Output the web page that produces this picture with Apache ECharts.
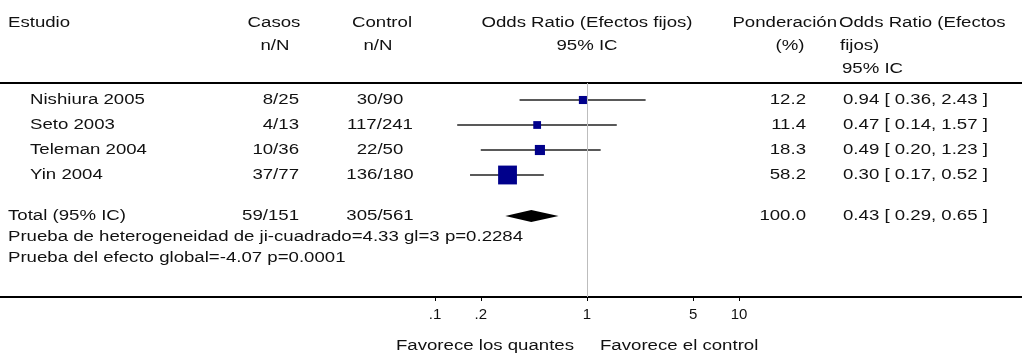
<!DOCTYPE html>
<html lang="es">
<head>
<meta charset="UTF-8">
<title>Forest plot</title>
<script src="https://cdn.jsdelivr.net/npm/echarts@6/dist/echarts.min.js"></script>
<style>
  html, body { margin: 0; padding: 0; background: #fff; }
  #chart { width: 1022px; height: 354px; }
</style>
</head>
<body>
<div id="chart"></div>
<script>
// data
var studies = ['Nishiura 2005', 'Seto 2003', 'Teleman 2004', 'Yin 2004'];
var casesEvents = [8, 4, 10, 37];
var casesTotal = [25, 13, 36, 77];
var controlEvents = [30, 117, 22, 136];
var controlTotal = [90, 241, 50, 180];
var weights = [12.2, 11.4, 18.3, 58.2];
var oddsRatio = [0.94, 0.47, 0.49, 0.30];
var ciLow = [0.36, 0.14, 0.20, 0.17];
var ciHigh = [2.43, 1.57, 1.23, 0.52];
var totalOR = [0.43, 0.29, 0.65];   // estimate, low, high
var totalWeight = 100.0;
var tickValues = [0.1, 0.2, 1, 5, 10];
var statLines = [
    'Prueba de heterogeneidad de ji-cuadrado=4.33 gl=3 p=0.2284',
    'Prueba del efecto global=-4.07 p=0.0001'
];

var FONT = '14px "Liberation Sans", Arial, sans-serif';
var SX = 1.33;          // the source text is drawn wide
var TEXT = '#111';
var TOTAL_ROW = 4.64;   // total row sits a bit below the studies

var sum = function (a) { return a.reduce(function (x, y) { return x + y; }, 0); };
var f2 = function (v) { return v.toFixed(2); };

var myChart = echarts.init(document.getElementById('chart'));

var studyData = studies.map(function (s, i) {
    return [oddsRatio[i], ciLow[i], ciHigh[i], i, weights[i]];
});

myChart.setOption({
    animation: false,
    grid: { left: 0, right: 0, top: 83, bottom: 57 },
    xAxis: {
        type: 'log',
        min: Math.pow(10, -3.862),
        max: Math.pow(10, 2.862),
        axisLine: { onZero: false, lineStyle: { color: '#000', width: 2 } },
        axisTick: { show: true, length: 4, customValues: tickValues, lineStyle: { color: '#000' } },
        axisLabel: {
            customValues: tickValues,
            margin: 10,
            fontSize: 15,
            fontFamily: '"Liberation Sans", Arial, sans-serif',
            color: TEXT,
            formatter: function (v) { return v < 1 ? String(+v.toFixed(2)).replace(/^0/, '') : String(v); }
        },
        splitLine: { show: false }
    },
    yAxis: { type: 'value', inverse: true, min: -0.68, max: 7.88, show: false },
    series: [{
        type: 'custom',
        data: studyData,
        renderItem: function (params, api) {
            var y = api.coord([1, api.value(3)])[1];
            var xs = api.coord([api.value(0), 0])[0];
            var xl = api.coord([api.value(1), 0])[0];
            var xh = api.coord([api.value(2), 0])[0];
            var size = 2.6 * Math.sqrt(api.value(4)) - 1;
            return {
                type: 'group',
                children: [{
                    type: 'line',
                    shape: { x1: xl, y1: y, x2: xh, y2: y },
                    style: { stroke: '#222', lineWidth: 1.3 }
                }, {
                    type: 'rect',
                    shape: { x: xs - size / 2, y: y - size / 2, width: size, height: size },
                    style: { fill: '#00008b' }
                }]
            };
        },
        markLine: {
            silent: true,
            symbol: 'none',
            label: { show: false },
            lineStyle: { color: '#bdbdbd', width: 1, type: 'solid' },
            data: [{ xAxis: 1 }]
        }
    }, {
        type: 'custom',
        data: [[totalOR[0], totalOR[1], totalOR[2], TOTAL_ROW]],
        renderItem: function (params, api) {
            var y = api.coord([1, api.value(3)])[1];
            var xs = api.coord([api.value(0), 0])[0];
            var xl = api.coord([api.value(1), 0])[0];
            var xh = api.coord([api.value(2), 0])[0];
            var h = 6;
            return {
                type: 'polygon',
                shape: { points: [[xl, y], [xs, y - h], [xh, y], [xs, y + h]] },
                style: { fill: '#000' }
            };
        }
    }]
});

// table text, placed on the same rows as the marks
function txt(s, x, y, align) {
    return {
        type: 'text', x: x, y: y, scaleX: SX, silent: true,
        style: { text: s, font: FONT, fill: TEXT, textAlign: align || 'left', textVerticalAlign: 'middle' }
    };
}
var rowY = function (r) { return myChart.convertToPixel({ yAxisIndex: 0 }, r); };
var x1 = myChart.convertToPixel({ xAxisIndex: 0 }, 1);

var els = [];
// header
els.push(txt('Estudio', 8, 23));
els.push(txt('Casos', 274, 23, 'center'), txt('n/N', 275, 46, 'center'));
els.push(txt('Control', 382, 23, 'center'), txt('n/N', 378, 46, 'center'));
els.push(txt('Odds Ratio (Efectos fijos)', x1, 23, 'center'), txt('95% IC', x1, 46, 'center'));
els.push(txt('Ponderación', 837, 23, 'right'), txt('(%)', 790, 46, 'center'));
els.push(txt('Odds Ratio (Efectos', 839, 23), txt('fijos)', 840, 46), txt('95% IC', 842, 69));
els.push({ type: 'line', silent: true, shape: { x1: 0, y1: 83, x2: 1022, y2: 83 }, style: { stroke: '#000', lineWidth: 2 } });

studies.forEach(function (s, i) {
    var y = rowY(i);
    els.push(txt(s, 30, y));
    els.push(txt(casesEvents[i] + '/' + casesTotal[i], 299, y, 'right'));
    els.push(txt(controlEvents[i] + '/' + controlTotal[i], 380, y, 'center'));
    els.push(txt(weights[i].toFixed(1), 806, y, 'right'));
    els.push(txt(f2(oddsRatio[i]) + ' [ ' + f2(ciLow[i]) + ', ' + f2(ciHigh[i]) + ' ]', 843, y));
});

var ty = rowY(TOTAL_ROW);
els.push(txt('Total (95% IC)', 8, ty));
els.push(txt(sum(casesEvents) + '/' + sum(casesTotal), 299, ty, 'right'));
els.push(txt(sum(controlEvents) + '/' + sum(controlTotal), 380, ty, 'center'));
els.push(txt(totalWeight.toFixed(1), 806, ty, 'right'));
els.push(txt(f2(totalOR[0]) + ' [ ' + f2(totalOR[1]) + ', ' + f2(totalOR[2]) + ' ]', 843, ty));
statLines.forEach(function (s, k) { els.push(txt(s, 8, ty + 21 * (k + 1))); });

els.push(txt('Favorece los quantes', x1 - 13, 346, 'right'));
els.push(txt('Favorece el control', x1 + 13, 346, 'left'));

myChart.setOption({ graphic: { elements: els } });
</script>
</body>
</html>
